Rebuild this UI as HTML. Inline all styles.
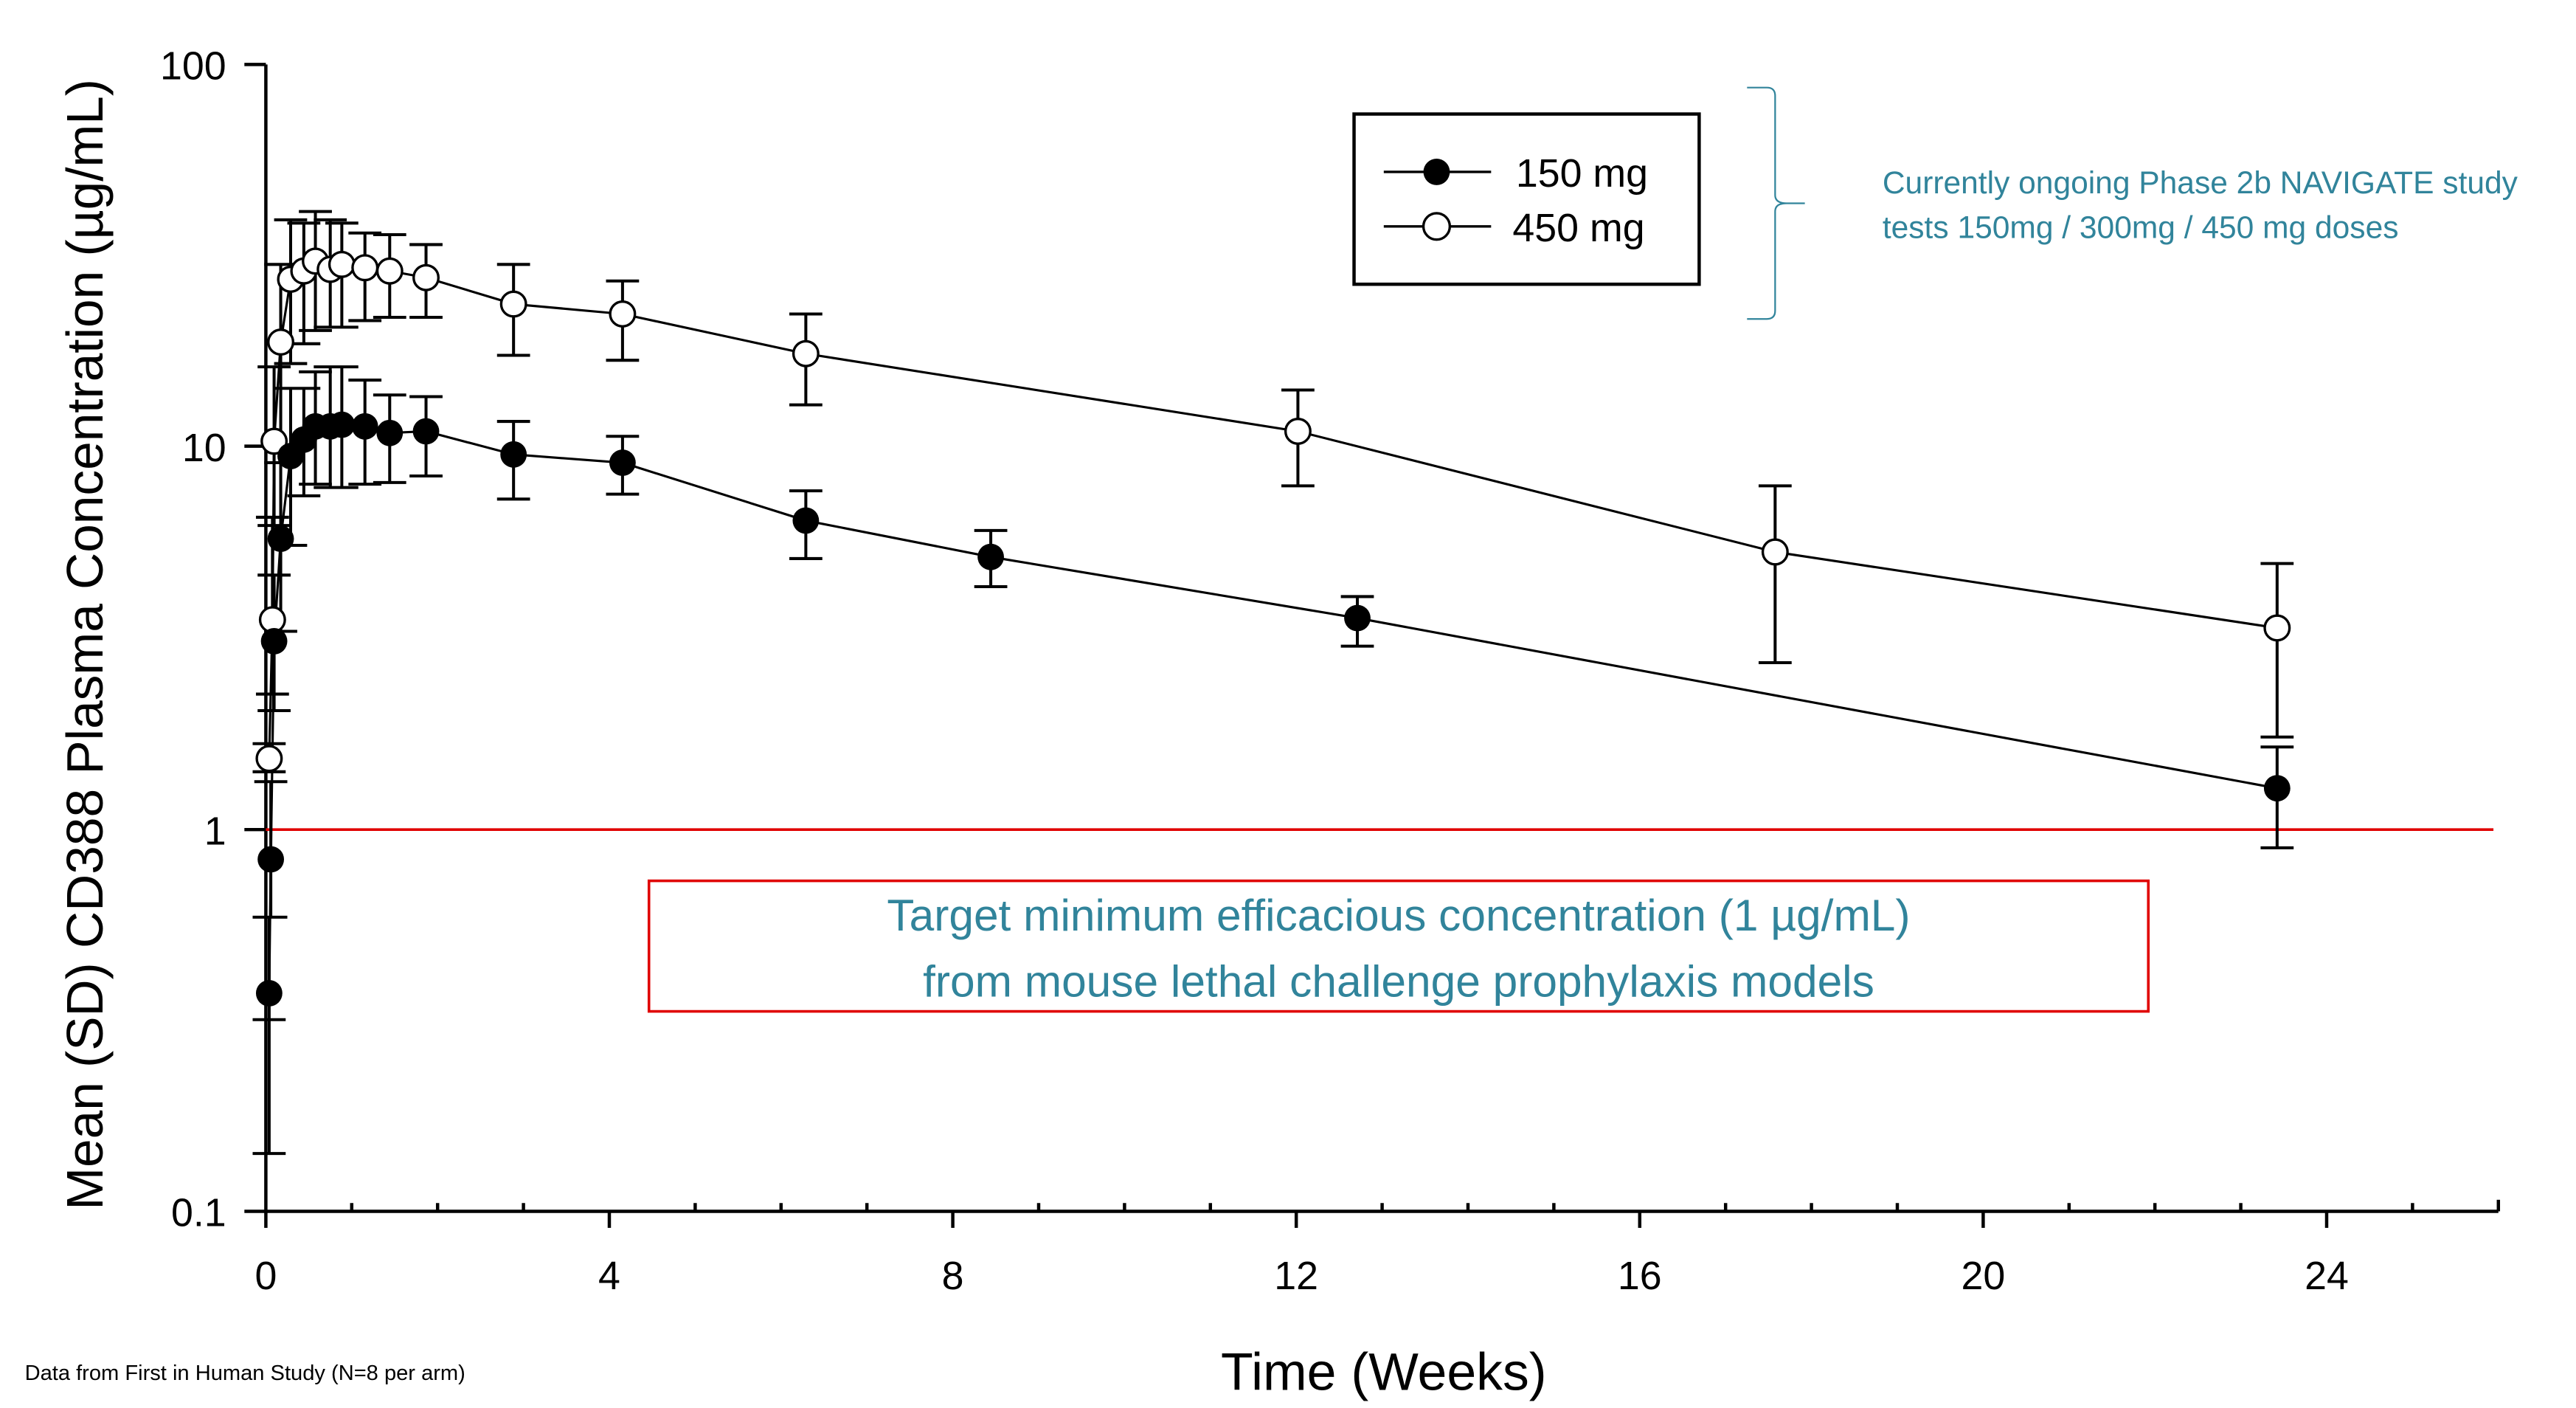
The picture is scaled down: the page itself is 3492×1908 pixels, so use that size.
<!DOCTYPE html>
<html><head><meta charset="utf-8"><style>
html,body{margin:0;padding:0;background:#fff;}
svg{display:block;}
</style></head><body>
<svg width="3492" height="1908" viewBox="0 0 1560 852" preserveAspectRatio="none" xmlns="http://www.w3.org/2000/svg" font-family="Liberation Sans, sans-serif">
<rect width="1560" height="852" fill="#fff"/>
<!-- axes -->
<g stroke="#000" stroke-width="2" fill="none">
<line x1="161" y1="39" x2="161" y2="734"/>
<line x1="161" y1="733" x2="1513" y2="733"/>
<line x1="1513" y1="733" x2="1513" y2="726"/>
<line x1="148" y1="39" x2="161" y2="39"/>
<line x1="148" y1="270" x2="161" y2="270"/>
<line x1="148" y1="502" x2="161" y2="502"/>
<line x1="148" y1="733" x2="161" y2="733"/>
<g id="xt">
<line x1="161" y1="733" x2="161" y2="743"/><line x1="369" y1="733" x2="369" y2="743"/><line x1="577" y1="733" x2="577" y2="743"/><line x1="785" y1="733" x2="785" y2="743"/><line x1="993" y1="733" x2="993" y2="743"/><line x1="1201" y1="733" x2="1201" y2="743"/><line x1="1409" y1="733" x2="1409" y2="743"/>
</g>
<path d="M213 733v-5M265 733v-5M317 733v-5M421 733v-5M473 733v-5M525 733v-5M629 733v-5M681 733v-5M733 733v-5M837 733v-5M889 733v-5M941 733v-5M1045 733v-5M1097 733v-5M1149 733v-5M1253 733v-5M1305 733v-5M1357 733v-5M1461 733v-5"/>
</g>
<g font-size="24" fill="#000" text-anchor="end">
<text x="137" y="48">100</text><text x="137" y="279">10</text><text x="137" y="511">1</text><text x="137" y="742">0.1</text>
</g>
<g font-size="24" fill="#000" text-anchor="middle">
<text x="161" y="780">0</text><text x="369" y="780">4</text><text x="577" y="780">8</text><text x="785" y="780">12</text><text x="993" y="780">16</text><text x="1201" y="780">20</text><text x="1409" y="780">24</text>
</g>
<text x="838" y="841" font-size="32" text-anchor="middle">Time (Weeks)</text>
<text transform="translate(62,390) rotate(-90)" font-size="31" text-anchor="middle">Mean (SD) CD388 Plasma Concentration (µg/mL)</text>
<text x="15" y="835" font-size="13">Data from First in Human Study (N=8 per arm)</text>
<!-- red line and box -->
<line x1="161" y1="502" x2="1510" y2="502" stroke="#e00000" stroke-width="1.6"/>
<rect x="393" y="533" width="908" height="79" fill="none" stroke="#e00000" stroke-width="1.6"/>
<g font-size="27" fill="#31849b" text-anchor="middle" font-family="Liberation Sans, DejaVu Sans, sans-serif">
<text x="847" y="563">Target minimum efficacious concentration (1 µg/mL)</text>
<text x="847" y="603">from mouse lethal challenge prophylaxis models</text>
</g>
<!-- legend -->
<rect x="820" y="69" width="209" height="103" fill="none" stroke="#000" stroke-width="2"/>
<line x1="838" y1="104" x2="903" y2="104" stroke="#000" stroke-width="1.5"/>
<circle cx="870" cy="104" r="8" fill="#000"/>
<line x1="838" y1="137" x2="903" y2="137" stroke="#000" stroke-width="1.5"/>
<circle cx="870" cy="137" r="8" fill="#fff" stroke="#000" stroke-width="1.5"/>
<text x="918" y="113" font-size="24">150 mg</text>
<text x="916" y="146" font-size="24">450 mg</text>
<!-- bracket -->
<path d="M1058 53 H1070 Q1075 53 1075 58 V118 Q1075 123 1082 123 H1093 M1082 123 Q1075 123 1075 128 V188 Q1075 193 1070 193 H1058" fill="none" stroke="#31849b" stroke-width="1"/>
<g font-size="19" fill="#31849b">
<text x="1140" y="117">Currently ongoing Phase 2b NAVIGATE study</text>
<text x="1140" y="144">tests 150mg / 300mg / 450 mg doses</text>
</g>
<!-- error bars -->
<g stroke="#000" stroke-width="1.8" fill="none">
<path d="M163 555V698M153 555h20M153 698h20M153 617h20
M164 473V555M154 473h20M154 555h20
M166 348V430M156 348h20M156 430h20
M170 280V382M160 280h20M160 382h20
M176 235V330M166 235h20M166 330h20
M184 235V300M174 235h20M174 300h20
M191 225V293M181 225h20M181 293h20
M200 222V295M190 222h20M190 295h20
M207 222V295M197 222h20M197 295h20
M221 230V293M211 230h20M211 293h20
M236 239V292M226 239h20M226 292h20
M258 240V288M248 240h20M248 288h20
M311 255V302M301 255h20M301 302h20
M377 264V299M367 264h20M367 299h20
M488 297V338M478 297h20M478 338h20
M600 321V355M590 321h20M590 355h20
M822 361V391M812 361h20M812 391h20
M1379 452V513M1369 452h20M1369 513h20
M163 450V467M153 450h20M153 467h20
M165 313V420M155 313h20M155 420h20
M166 222V318M156 222h20M156 318h20
M170 160V270M160 160h20M160 270h20
M176 133V220M166 133h20M166 220h20
M184 135V208M174 135h20M174 208h20
M191 128V200M181 128h20M181 200h20
M200 133V198M190 133h20M190 198h20
M207 135V198M197 135h20M197 198h20
M221 141V194M211 141h20M211 194h20
M236 142V192M226 142h20M226 192h20
M258 148V192M248 148h20M248 192h20
M311 160V215M301 160h20M301 215h20
M377 170V218M367 170h20M367 218h20
M488 190V245M478 190h20M478 245h20
M786 236V294M776 236h20M776 294h20
M1075 294V401M1065 294h20M1065 401h20
M1379 341V446M1369 341h20M1369 446h20"/>
</g>
<!-- lines -->
<polyline fill="none" stroke="#000" stroke-width="1.4" points="163,601 164,520 166,388 170,326 176,276 184,266 191,258 200,258 207,257 221,258 236,262 258,261 311,275 377,280 488,315 600,337 822,374 1379,477"/>
<polyline fill="none" stroke="#000" stroke-width="1.4" points="163,459 165,375 166,267 170,207 176,169 184,164 191,158 200,163 207,160 221,162 236,164 258,168 311,184 377,190 488,214 786,261 1075,334 1379,380"/>
<!-- markers 450 -->
<g fill="#fff" stroke="#000" stroke-width="1.5">
<circle cx="163" cy="459" r="7.5"/><circle cx="165" cy="375" r="7.5"/><circle cx="166" cy="267" r="7.5"/><circle cx="170" cy="207" r="7.5"/><circle cx="176" cy="169" r="7.5"/><circle cx="184" cy="164" r="7.5"/><circle cx="191" cy="158" r="7.5"/><circle cx="200" cy="163" r="7.5"/><circle cx="207" cy="160" r="7.5"/><circle cx="221" cy="162" r="7.5"/><circle cx="236" cy="164" r="7.5"/><circle cx="258" cy="168" r="7.5"/><circle cx="311" cy="184" r="7.5"/><circle cx="377" cy="190" r="7.5"/><circle cx="488" cy="214" r="7.5"/><circle cx="786" cy="261" r="7.5"/><circle cx="1075" cy="334" r="7.5"/><circle cx="1379" cy="380" r="7.5"/>
</g>
<!-- markers 150 -->
<g fill="#000">
<circle cx="163" cy="601" r="8"/><circle cx="164" cy="520" r="8"/><circle cx="166" cy="388" r="8"/><circle cx="170" cy="326" r="8"/><circle cx="176" cy="276" r="8"/><circle cx="184" cy="266" r="8"/><circle cx="191" cy="258" r="8"/><circle cx="200" cy="258" r="8"/><circle cx="207" cy="257" r="8"/><circle cx="221" cy="258" r="8"/><circle cx="236" cy="262" r="8"/><circle cx="258" cy="261" r="8"/><circle cx="311" cy="275" r="8"/><circle cx="377" cy="280" r="8"/><circle cx="488" cy="315" r="8"/><circle cx="600" cy="337" r="8"/><circle cx="822" cy="374" r="8"/><circle cx="1379" cy="477" r="8"/>
</g>
</svg>
</body></html>
